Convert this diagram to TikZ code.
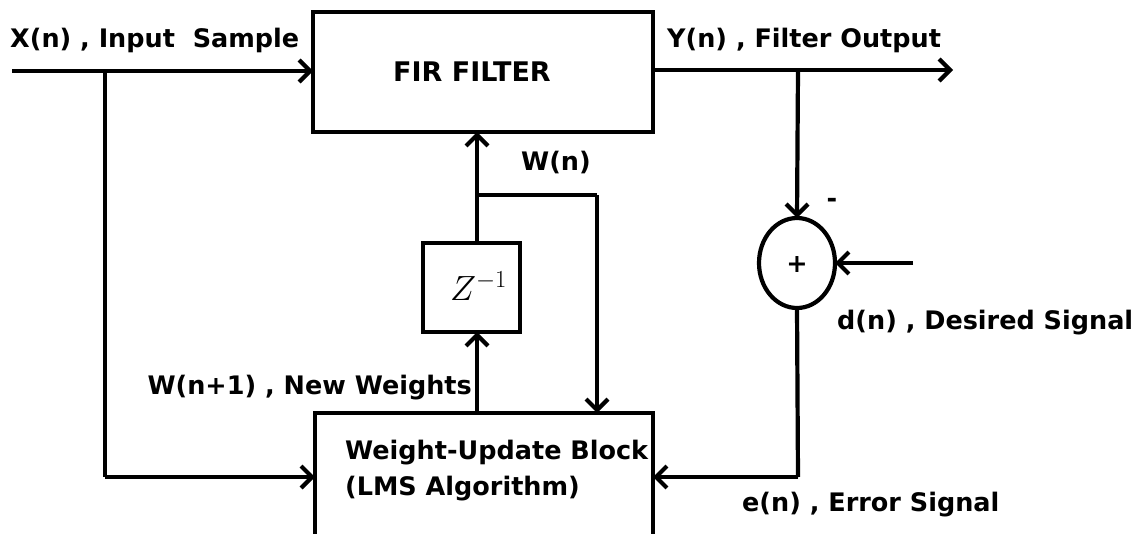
\RequirePackage{fix-cm}
\documentclass[tikz,border=0pt]{standalone}
\usepackage{fontspec}
\setmainfont{DejaVu Sans}
\usetikzlibrary{arrows.meta,shapes.geometric}
\begin{document}
\begin{tikzpicture}[x=1pt,y=-1pt,
  wire/.style={line width=4.2pt},
  arr/.style={wire,-{Straight Barb[length=11pt,width=22pt,line width=4.2pt]}},
  blk/.style={draw,line width=4.2pt,inner sep=0pt,outer sep=0pt},
  lbl/.style={font=\bfseries\fontsize{25.5}{36}\selectfont,inner sep=0pt}]
\useasboundingbox (0,0) rectangle (1135,533);
\fill[white] (0,0) rectangle (1135,533);
% blocks
\node[blk,minimum width=340pt,minimum height=120pt] (fir) at (483,72) {};
\node[lbl,font=\bfseries\fontsize{27}{32}\selectfont] (firtxt) at (472,72) {FIR FILTER};
\node[blk,minimum width=97pt,minimum height=89pt] (z) at (471.5,287.5) {};
\node[font=\fontsize{35}{40}\selectfont,inner sep=0pt] (ztxt) at (478.5,286) {$Z^{-1}$};
\node[blk,minimum width=338pt,minimum height=132pt] (wu) at (484,479) {};
\node[lbl,align=left,anchor=west] (wutxt) at (345,471) {Weight-Update Block\\(LMS Algorithm)};
\node[blk,ellipse,minimum width=76pt,minimum height=90pt] (sum) at (797,263) {};
\node[lbl] (plus) at (797,265) {+};
% coordinates
\coordinate (xin) at (12,71);
\coordinate (xb) at (105,71);
\coordinate (xb2) at (105,477);
\coordinate (yb) at (798,70);
\coordinate (yout) at (953,70);
\coordinate (din) at (913,263);
\coordinate (eb) at (798,477);
\coordinate (wtop) at (477,413);
\coordinate (zbot) at (477,332);
\coordinate (ztop) at (477,243);
\coordinate (firb) at (477,132);
\coordinate (wj) at (477,195);
\coordinate (wr) at (597,195);
\coordinate (wrb) at (597,413);
% connectors
\draw[arr] (xin) -- (xin -| fir.west);
\draw[wire] (xb) -- (xb2);
\draw[arr] (xb2) -- (xb2 -| wu.west);
\draw[arr] (yb -| fir.east) -- (yout);
\draw[arr] (yb) -- (sum.north);
\draw[arr] (din) -- (sum.east);
\draw[wire] (sum.south) -- (eb);
\draw[arr] (eb) -- (eb -| wu.east);
\draw[arr] (wtop) -- (zbot);
\draw[arr] (ztop) -- (firb);
\draw[wire] (wj) -- (wr);
\draw[arr] (wr) -- (wrb);
% labels
\node[lbl,anchor=west] (xl) at (10,40) {X(n) , Input\ \ Sample};
\node[lbl,anchor=west] (yl) at (667,40) {Y(n) , Filter Output};
\node[lbl] (wn) at (556,163) {W(n)};
\node[lbl,anchor=east] (wn1) at (472,388) {W(n+1) , New Weights};
\node[lbl] (minus) at (832,203) {-};
\node[lbl,anchor=west] (dl) at (837,323) {d(n) , Desired Signal};
\node[lbl,anchor=west] (el) at (742,505) {e(n) , Error Signal};
\end{tikzpicture}
\end{document}
